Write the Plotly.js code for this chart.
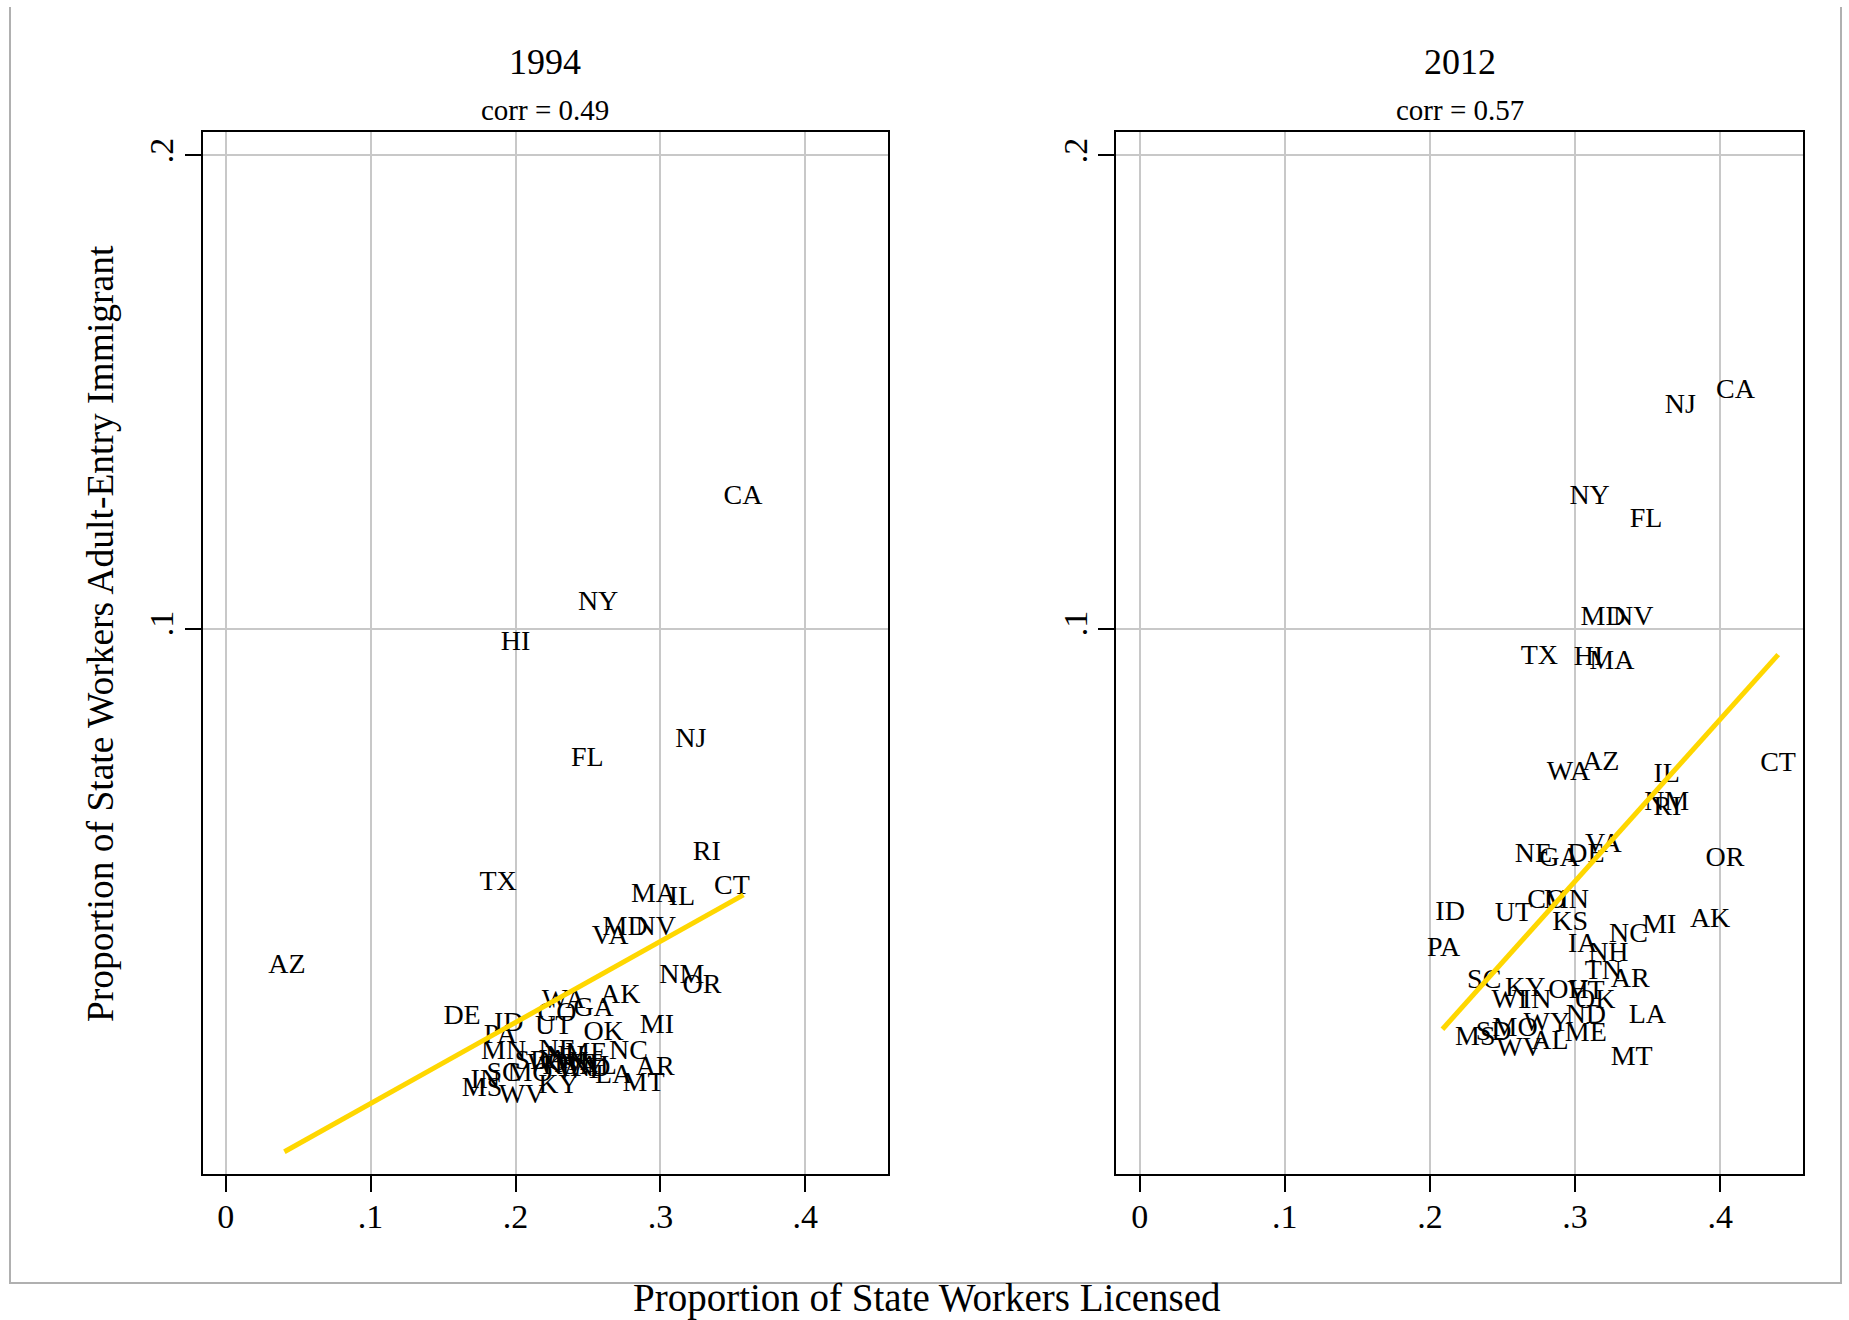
<!DOCTYPE html>
<html><head><meta charset="utf-8">
<script src="https://cdn.plot.ly/plotly-3.0.1.min.js"></script>
<style>html,body{margin:0;padding:0;background:#fff;} #chart{width:1849px;height:1320px;}</style>
</head><body><div id="chart"></div>
<script>
const states1994 = ['CA','NY','HI','NJ','FL','RI','TX','CT','MA','IL','MD','NV','VA','AZ','NM','OR','AK','WA','GA','CO','DE','ID','UT','MI','OK','PA','MN','NE','ME','NC','NH','SD','WI','IA','KS','OH','TN','VT','ND','WY','AL','AR','SC','MO','LA','IN','MT','KY','MS','WV'];
const licensed1994 = [0.357,0.257,0.200,0.321,0.2496,0.332,0.188,0.3493,0.2952,0.3148,0.2756,0.2968,0.2653,0.0423,0.3148,0.3286,0.2723,0.2332,0.2539,0.2286,0.1631,0.1953,0.2263,0.2976,0.2608,0.1895,0.1918,0.2288,0.2489,0.278,0.2343,0.2116,0.2206,0.2261,0.2309,0.2364,0.2413,0.2468,0.2516,0.2447,0.2571,0.2964,0.1918,0.210,0.2677,0.1792,0.2884,0.2297,0.1769,0.2045];
const immigrant1994 = [0.1279,0.1055,0.097,0.0764,0.0724,0.0525,0.0463,0.0454,0.0437,0.043,0.0367,0.0367,0.0348,0.0286,0.0265,0.0244,0.0223,0.0213,0.0195,0.0185,0.0178,0.0163,0.0157,0.016,0.0146,0.0139,0.0104,0.0107,0.0100,0.0104,0.0094,0.0083,0.0077,0.0085,0.0073,0.0081,0.0068,0.0077,0.0068,0.0064,0.0073,0.0072,0.0058,0.0058,0.0054,0.0044,0.0037,0.0033,0.0026,0.0012];
const fitX1994 = [0.0405, 0.3573];
const fitY1994 = [-0.0106, 0.0437];

const states2012 = ['CA','NJ','NY','FL','MD','NV','TX','HI','MA','WA','AZ','IL','NM','RI','CT','OR','VA','NE','GA','DE','CO','MN','ID','UT','KS','NC','MI','AK','PA','IA','NH','TN','AR','SC','KY','OH','VT','OK','WI','IN','LA','ND','WY','MO','SD','MS','ME','AL','WV','MT'];
const licensed2012 = [0.4105,0.3724,0.31,0.3489,0.3193,0.34,0.2754,0.3092,0.3253,0.2954,0.3177,0.3631,0.3631,0.3635,0.4398,0.4032,0.3195,0.2713,0.2892,0.3074,0.2805,0.294,0.2139,0.2575,0.2966,0.3367,0.358,0.393,0.2094,0.3053,0.3229,0.3195,0.3379,0.2374,0.2656,0.2954,0.3075,0.3138,0.2548,0.2736,0.3498,0.3074,0.2805,0.2587,0.2438,0.2312,0.3074,0.2827,0.2617,0.339];
const immigrant2012 = [0.1502,0.147,0.1279,0.1229,0.1022,0.1022,0.094,0.0937,0.093,0.0695,0.0716,0.0691,0.0631,0.0621,0.0714,0.0512,0.0543,0.0522,0.0512,0.0522,0.0424,0.0424,0.0399,0.0396,0.0378,0.0353,0.0371,0.0383,0.0322,0.0332,0.0311,0.0273,0.0258,0.0255,0.0237,0.0234,0.0232,0.0213,0.0213,0.0213,0.0181,0.0181,0.0163,0.0153,0.0146,0.0135,0.0142,0.0125,0.0111,0.0093];
const fitX2012 = [0.2086, 0.4399];
const fitY2012 = [0.0153, 0.0945];

const xTickVals = [0, 0.1, 0.2, 0.3, 0.4];
const xTickText = ['0', '.1', '.2', '.3', '.4'];
const yTickVals = [0.1, 0.2];
const yTickText = ['.1', '.2'];
const panelTitles = ['1994', '2012'];
const corrLabels = ['corr = 0.49', 'corr = 0.57'];
const xTitle = 'Proportion of State Workers Licensed';
const yTitle = 'Proportion of State Workers Adult-Entry Immigrant';

const W = 1849, H = 1320;
const serif = 'Liberation Serif, Times New Roman, serif';
const gold = '#FFD700';

function px(x){ return x / W; }
function py(y){ return 1 - y / H; }

const traces = [
  {x: licensed1994, y: immigrant1994, text: states1994, mode: 'text', type: 'scatter',
   textposition: 'middle center', textfont: {family: serif, size: 28, color: '#000'},
   xaxis: 'x', yaxis: 'y', hoverinfo: 'skip', showlegend: false},
  {x: fitX1994, y: fitY1994, mode: 'lines', type: 'scatter', line: {color: gold, width: 5},
   xaxis: 'x', yaxis: 'y', hoverinfo: 'skip', showlegend: false},
  {x: licensed2012, y: immigrant2012, text: states2012, mode: 'text', type: 'scatter',
   textposition: 'middle center', textfont: {family: serif, size: 28, color: '#000'},
   xaxis: 'x2', yaxis: 'y2', hoverinfo: 'skip', showlegend: false},
  {x: fitX2012, y: fitY2012, mode: 'lines', type: 'scatter', line: {color: gold, width: 5},
   xaxis: 'x2', yaxis: 'y2', hoverinfo: 'skip', showlegend: false}
];

const xRange = [-0.016, 0.4567];
const yRange = [-0.0152, 0.2049];

function xAxis(domain, anchor){
  return {domain: domain, anchor: anchor, range: xRange, tickmode: 'array', tickvals: xTickVals, ticktext: xTickText,
    showgrid: true, gridcolor: '#c8c8c8', gridwidth: 2, zeroline: false,
    showline: true, mirror: true, linecolor: '#000', linewidth: 2,
    ticks: 'outside', ticklen: 16, tickwidth: 2, tickcolor: '#000',
    tickfont: {family: serif, size: 34, color: '#000'}, ticklabelstandoff: -4, fixedrange: true};
}
function yAxis(domain, anchor){
  return {domain: domain, anchor: anchor, range: yRange, tickmode: 'array', tickvals: yTickVals, ticktext: yTickText,
    showgrid: true, gridcolor: '#c8c8c8', gridwidth: 2, zeroline: false,
    showline: true, mirror: true, linecolor: '#000', linewidth: 2,
    ticks: 'outside', ticklen: 16, tickwidth: 2, tickcolor: '#000', tickangle: -90,
    tickfont: {family: serif, size: 34, color: '#000'}, ticklabelstandoff: -2, fixedrange: true};
}

const yDom = [1 - 1173.5 / H, 1 - 132.3 / H];
const layout = {
  width: W, height: H,
  margin: {l: 0, r: 0, t: 0, b: 0, pad: 0},
  paper_bgcolor: '#fff', plot_bgcolor: '#fff',
  showlegend: false,
  xaxis: xAxis([px(202.5), px(887.5)], 'y'),
  yaxis: yAxis(yDom, 'x'),
  xaxis2: xAxis([px(1116.4), px(1802.6)], 'y2'),
  yaxis2: yAxis(yDom, 'x2'),
  annotations: [
    {text: panelTitles[0], x: px(545), y: py(62), xref: 'paper', yref: 'paper', xanchor: 'center', yanchor: 'middle', showarrow: false, font: {family: serif, size: 36, color: '#000'}},
    {text: panelTitles[1], x: px(1459.5), y: py(62), xref: 'paper', yref: 'paper', xanchor: 'center', yanchor: 'middle', showarrow: false, font: {family: serif, size: 36, color: '#000'}},
    {text: corrLabels[0], x: px(545), y: py(110), xref: 'paper', yref: 'paper', xanchor: 'center', yanchor: 'middle', showarrow: false, font: {family: serif, size: 29, color: '#000'}},
    {text: corrLabels[1], x: px(1459.5), y: py(110), xref: 'paper', yref: 'paper', xanchor: 'center', yanchor: 'middle', showarrow: false, font: {family: serif, size: 29, color: '#000'}},
    {text: xTitle, x: px(927), y: py(1298), xref: 'paper', yref: 'paper', xanchor: 'center', yanchor: 'middle', showarrow: false, font: {family: serif, size: 39, color: '#000'}},
    {text: yTitle, x: px(101), y: py(634), xref: 'paper', yref: 'paper', xanchor: 'center', yanchor: 'middle', textangle: -90, showarrow: false, font: {family: serif, size: 37.5, color: '#000'}}
  ],
  shapes: [
    {type: 'path', xref: 'paper', yref: 'paper',
     path: 'M ' + px(10) + ' ' + py(7) + ' L ' + px(10) + ' ' + py(1283) + ' L ' + px(1841) + ' ' + py(1283) + ' L ' + px(1841) + ' ' + py(7),
     line: {color: '#b0b0b0', width: 2}}
  ]
};

Plotly.newPlot('chart', traces, layout, {staticPlot: true, displayModeBar: false});
</script></body></html>
